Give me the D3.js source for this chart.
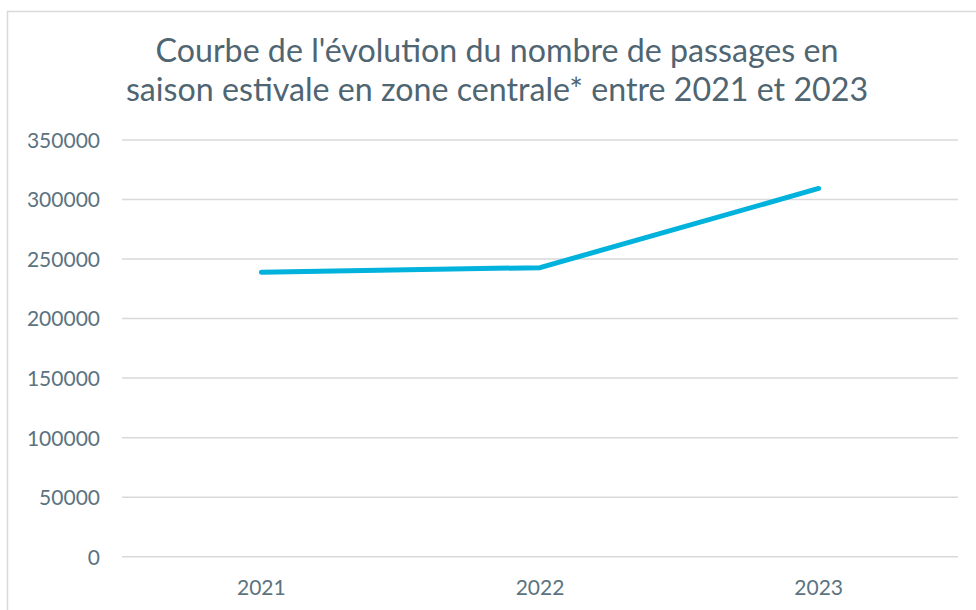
<!DOCTYPE html>
<html><head><meta charset="utf-8">
<script src="https://cdn.jsdelivr.net/npm/d3@7"></script>
<style>body{margin:0;background:#fff}svg{display:block}</style>
</head><body>
<script>
const titleLines = ["Courbe de l'évolution du nombre de passages en", "saison estivale en zone centrale* entre 2021 et 2023"];
const years = ["2021", "2022", "2023"];
const passages = [239000, 242800, 309300];
const yTicks = [0, 50000, 100000, 150000, 200000, 250000, 300000, 350000];

const W = 976, H = 610;
const svg = d3.select("body").append("svg").attr("width", W).attr("height", H);
svg.append("rect").attr("x", 7.5).attr("y", 11.5).attr("width", 1000).attr("height", 700)
  .attr("fill", "#fff").attr("stroke", "#d9d9d9").attr("stroke-width", 1.5);

const font = "Lato, 'Open Sans', sans-serif";
const labelColor = "#5b7380";

svg.append("g").selectAll("text").data(titleLines).join("text")
  .attr("x", 497).attr("y", (d, i) => 62 + i * 39)
  .attr("text-anchor", "middle").attr("font-family", font).attr("font-size", 32.2)
  .attr("fill", "#4f6572").text(d => d);

const x = d3.scaleBand().domain(years).range([122, 958]);
const y = d3.scaleLinear().domain([0, 350000]).range([556.7, 140]);

const grid = svg.append("g");
grid.selectAll("line").data(yTicks).join("line")
  .attr("x1", 122).attr("x2", 958).attr("y1", d => y(d)).attr("y2", d => y(d))
  .attr("stroke", "#d9d9d9").attr("stroke-width", 1.5);

const yAxis = svg.append("g").attr("transform", "translate(100,0)")
  .call(d3.axisLeft(y).tickValues(yTicks).tickSize(0).tickPadding(0).tickFormat(d3.format("d")));
yAxis.select(".domain").remove();
yAxis.selectAll("text").attr("font-family", font).attr("font-size", 21).attr("fill", labelColor)
  .attr("dy", "0.35em");

const xAxis = svg.append("g").attr("transform", "translate(0,556.7)")
  .call(d3.axisBottom(x).tickSize(0).tickPadding(23));
xAxis.select(".domain").remove();
xAxis.selectAll("text").attr("font-family", font).attr("font-size", 21).attr("fill", labelColor);

const line = d3.line().x((d, i) => x(years[i]) + x.bandwidth() / 2).y(d => y(d));
svg.append("path").datum(passages).attr("d", line)
  .attr("fill", "none").attr("stroke", "#00b2dc").attr("stroke-width", 5)
  .attr("stroke-linecap", "round").attr("stroke-linejoin", "round");
</script>
</body></html>
